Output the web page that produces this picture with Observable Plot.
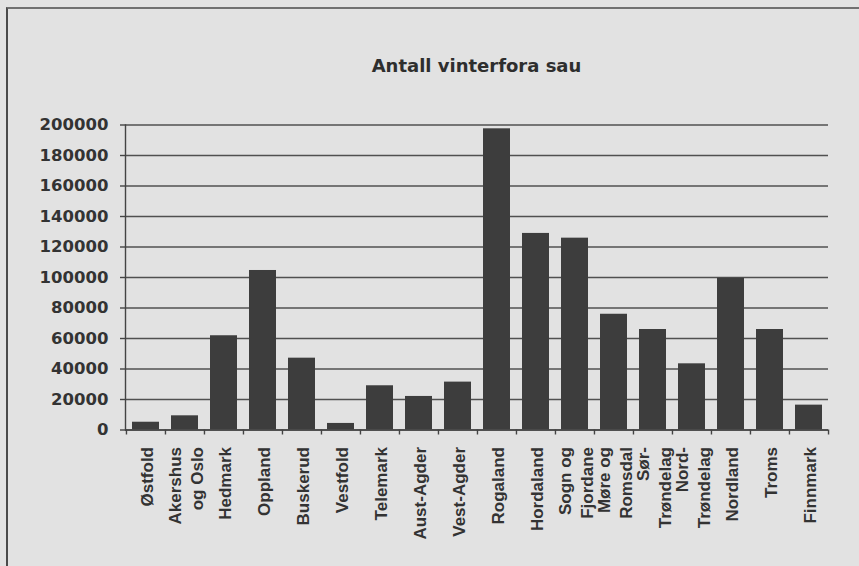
<!DOCTYPE html>
<html>
<head>
<meta charset="utf-8">
<script src="https://cdn.jsdelivr.net/npm/d3@7"></script>
<script src="https://cdn.jsdelivr.net/npm/@observablehq/plot@0.6"></script>
<style>
  html, body { margin: 0; padding: 0; background: #e2e2e2; }
  #wrap { position: relative; width: 859px; height: 566px; overflow: hidden; background: #e2e2e2; }
  #frame { position: absolute; left: 6px; top: 7px; right: -10px; bottom: -10px;
           border-left: 2px solid #4a4a4a; border-top: 2px solid #707070; }
  #title { position: absolute; left: 125px; width: 703px; top: 55px; text-align: center;
           font: bold 18px "DejaVu Sans", sans-serif; color: #2e2e2e; }
  #chart { position: absolute; left: 0; top: 100px; }
</style>
</head>
<body>
<div id="wrap">
  <div id="frame"></div>
  <div id="title">Antall vinterfora sau</div>
  <div id="chart"></div>
</div>
<script>
const regions = ["Østfold","Akershus og Oslo","Hedmark","Oppland","Buskerud","Vestfold","Telemark","Aust-Agder","Vest-Agder","Rogaland","Hordaland","Sogn og Fjordane","Møre og Romsdal","Sør-Trøndelag","Nord-Trøndelag","Nordland","Troms","Finnmark"];
const labels = ["Østfold","Akershus\nog Oslo","Hedmark","Oppland","Buskerud","Vestfold","Telemark","Aust-Agder","Vest-Agder","Rogaland","Hordaland","Sogn og\nFjordane","Møre og\nRomsdal","Sør-\nTrøndelag","Nord-\nTrøndelag","Nordland","Troms","Finnmark"];
const sheep = [5100, 9300, 61800, 104600, 47100, 4300, 29000, 22000, 31400, 197500, 128900, 125800, 75900, 65900, 43400, 99500, 65900, 16300];
const yTicks = [0, 20000, 40000, 60000, 80000, 100000, 120000, 140000, 160000, 180000, 200000];

const data = regions.map((r, i) => ({region: r, label: labels[i], value: sheep[i]}));

const W = 859, H = 466;
const mL = 125, mR = 31, mT = 24.5, mB = 136.5;
const step = (W - mL - mR) / regions.length;

const chart = Plot.plot({
  width: W, height: H,
  marginLeft: mL, marginRight: mR, marginTop: mT, marginBottom: mB,
  style: {background: "transparent", color: "#333", fontFamily: "DejaVu Sans", fontWeight: "bold"},
  x: {domain: regions, paddingInner: 0.32, paddingOuter: 0.16, align: 0.5, axis: null},
  y: {domain: [0, 200000], axis: null},
  marks: [
    Plot.gridY(yTicks, {stroke: "#505050", strokeOpacity: 1, strokeWidth: 1.4}),
    Plot.axisY(yTicks, {tickSize: 5, tickPadding: 12, fontSize: 16.5, label: null, stroke: "#444", strokeWidth: 1.4, tickFormat: d => String(d)}),
    Plot.barY(data, {x: "region", y: "value", fill: "#3d3d3d"}),
    Plot.ruleY([0], {stroke: "#444", strokeWidth: 1.4}),
    Plot.frame({anchor: "left", stroke: "#444", strokeWidth: 1.4}),
    Plot.axisX(regions, {tickSize: 5, tickFormat: () => "", dx: -step / 2, label: null, stroke: "#444", strokeWidth: 1.4}),
    Plot.axisX([regions[regions.length - 1]], {tickSize: 5, tickFormat: () => "", dx: step / 2, label: null, stroke: "#444", strokeWidth: 1.4}),
    Plot.text(data, {x: "region", text: "label", frameAnchor: "bottom", rotate: -90, textAnchor: "end",
      lineAnchor: "middle", dy: 17, fontSize: 17, fontFamily: "Liberation Sans", fontWeight: "bold",
      lineHeight: 1.3, fill: "#333"})
  ]
});
document.getElementById("chart").appendChild(chart);
</script>
</body>
</html>
